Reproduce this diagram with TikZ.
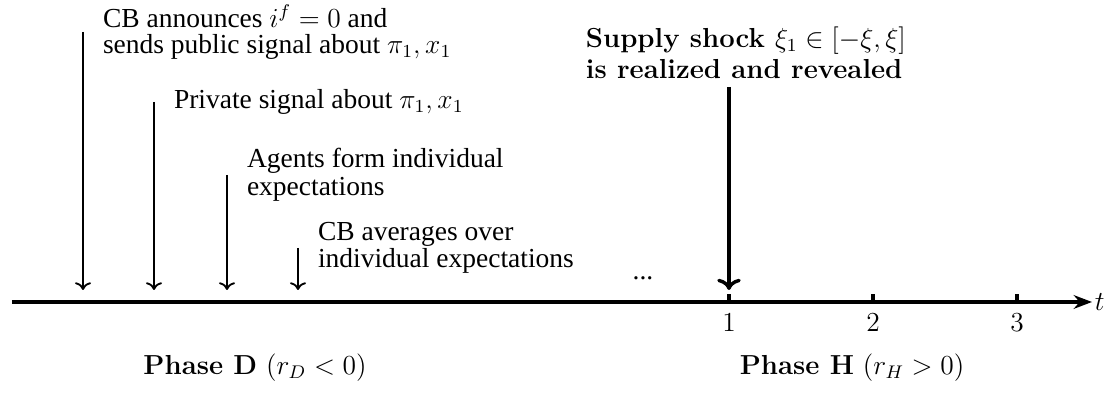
\documentclass[tikz,border=0pt]{standalone}
\usepackage{amsmath,amssymb}
\usepackage{fontspec}
\newfontfamily\timesfont{Liberation Serif}
\newfontfamily\lmfont{Latin Modern Roman}
\usetikzlibrary{arrows.meta,positioning}

\begin{document}
\begin{tikzpicture}[x=1.534cm,y=1.534cm,>=To,
  evline/.style={line width=0.8pt,->},
  evtext/.style={inner sep=0pt,align=left,font=\timesfont\fontsize{12}{12}\selectfont},
  boldtext/.style={inner sep=0pt,align=left,font=\lmfont\bfseries\fontsize{12}{13.5}\selectfont},
  tickmark/.style={line width=2pt},
  ticklabel/.style={inner sep=0pt,font=\fontsize{12}{14}\selectfont}]
  \useasboundingbox (0,0) rectangle (11.08,4.00);

  % time axis
  \coordinate (axstart) at (0.12,0.98);
  \coordinate (axend) at (10.92,0.98);
  \draw[line width=2pt,-{Stealth[length=2.8mm,width=2.1mm]}] (axstart) -- (axend);
  \node[anchor=west,inner sep=1pt,font=\fontsize{12}{14}\selectfont] (tlab) at (axend) {$t$};

  \foreach \t/\x in {1/7.29,2/8.73,3/10.17} {
    \coordinate (tk\t) at (\x,0.98);
    \draw[tickmark] (tk\t) -- ++(0,0.08);
    \node[ticklabel,below=1.8mm of tk\t] (tl\t) {$\t$};
  }

  % events in phase D
  \foreach \i/\x/\y in {1/0.83/3.68,2/1.54/2.98,3/2.27/2.25,4/2.98/1.52} {
    \coordinate (top\i) at (\x,\y);
    \coordinate (tip\i) at (\x,1.10);
    \draw[evline] (top\i) -- (tip\i);
  }
  \node[evtext,right=3mm of top1,font=\timesfont\fontsize{12}{11.5}\selectfont] (ev1)
       {CB announces $i^f=0$ and\\sends public signal about $\pi_1,x_1$};
  \node[evtext,right=3mm of top2] (ev2) {Private signal about $\pi_1,x_1$};
  \node[evtext,right=3mm of top3] (ev3) {Agents form individual\\expectations};
  \node[evtext,right=3mm of top4] (ev4) {CB averages over\\individual expectations};
  \node[evtext] (dots) at (6.43,1.22) {...};

  % supply shock at t=1
  \coordinate (shtop) at (7.29,3.13);
  \coordinate (shtip) at (7.29,1.10);
  \draw[line width=1.5pt,->] (shtop) -- (shtip);
  \node[boldtext,above=1.2mm of shtop,xshift=2.6mm] (shock)
       {Supply shock $\xi_1\in[-\xi,\xi]$\\is realized and revealed};

  % phases
  \node[font=\lmfont\fontsize{12}{14}\selectfont] (phD) at (2.55,0.32) {\textbf{Phase D} ($r_D<0$)};
  \node[font=\lmfont\fontsize{12}{14}\selectfont] (phH) at (8.52,0.32) {\textbf{Phase H} ($r_H>0$)};
\end{tikzpicture}
\end{document}
